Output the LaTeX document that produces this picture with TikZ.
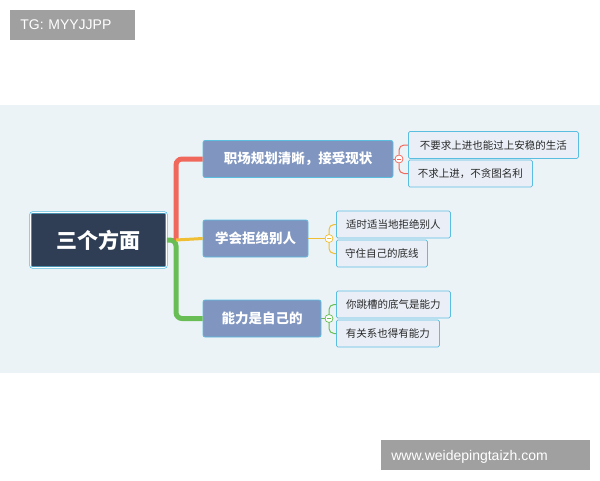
\documentclass[tikz,border=0pt]{standalone}
\usepackage{fontspec}
\setmainfont{Liberation Sans}
\newfontfamily\cjk{Noto Sans CJK SC}
\definecolor{bandbg}{RGB}{236,243,247}
\definecolor{rootfill}{RGB}{47,62,85}
\definecolor{topicfill}{RGB}{128,150,192}
\definecolor{edgeblue}{RGB}{90,190,225}
\definecolor{leaffill}{RGB}{234,239,247}
\definecolor{redline}{RGB}{240,104,92}
\definecolor{yellowline}{RGB}{240,190,50}
\definecolor{greenline}{RGB}{104,190,84}
\definecolor{markgray}{RGB}{160,160,160}
\tikzset{every picture/.style={line width=0.75pt}}
\tikzset{
  rootbox/.style={draw=edgeblue,fill=rootfill,text=white,rounded corners=2pt,double=white,double distance=0.6pt,minimum width=136pt,minimum height=55pt,font=\cjk\bfseries\fontsize{21}{24}\selectfont},
  topicbox/.style={draw=edgeblue,fill=topicfill,text=white,rounded corners=2pt,minimum height=37pt,font=\cjk\bfseries\fontsize{13.5}{16}\selectfont},
  leafbox/.style={draw=edgeblue,fill=leaffill,text={rgb,255:red,40;green,40;blue,40},rounded corners=1.5pt,minimum height=27pt,inner xsep=6pt,font=\cjk\fontsize{10.5}{12}\selectfont},
  trunk/.style={line width=5pt,rounded corners=6pt},
  twig/.style={line width=1pt,rounded corners=5pt},
  knob/.style={circle,draw,fill=white,inner sep=0pt,minimum size=8pt},
  markbox/.style={fill=markgray,text=white,inner xsep=10pt,anchor=west,text depth=0pt,font=\fontsize{14}{16}\selectfont}
}
\begin{document}
\begin{tikzpicture}[x=1pt,y=-1pt]
\useasboundingbox (0,0) rectangle (600,480);
\fill[white] (0,0) rectangle (600,480);
\fill[bandbg] (0,105) rectangle (600,373);

% watermarks
\node[markbox,minimum width=125pt,minimum height=30pt,text width=105pt] (tagmark) at (10,25) {TG: MYYJJPP};
\node[markbox,minimum width=209pt,minimum height=30pt,text width=189pt] (sitemark) at (381,455) {www.weidepingtaizh.com};

% root and topics
\node[rootbox] (root) at (98.5,240) {三个方面};
\node[topicbox,minimum width=190pt] (career) at (298,159) {职场规划清晰，接受现状};
\node[topicbox,minimum width=105pt] (refuse) at (255.5,238.5) {学会拒绝别人};
\node[topicbox,minimum width=118pt] (ability) at (262,318.5) {能力是自己的};

% trunk
\coordinate (fork) at (176,240);
\draw[trunk,greenline] (root.east) -- (fork) |- (ability.west);
\draw[trunk,redline] (fork) |- (career.west);
\draw[yellowline,line width=3pt] (fork) -- (refuse.west);

% leaves
\node[leafbox,anchor=west,minimum width=170pt] (stable) at (408,145) {不要求上进也能过上安稳的生活};
\node[leafbox,anchor=west,minimum width=124pt] (nofame) at (408,173.5) {不求上进，不贪图名利};
\node[leafbox,anchor=west,minimum width=114pt] (timely) at (336,224.5) {适时适当地拒绝别人};
\node[leafbox,anchor=west,minimum width=91pt] (bottom) at (336,253.5) {守住自己的底线};
\node[leafbox,anchor=west,minimum width=114pt] (courage) at (336,304.5) {你跳槽的底气是能力};
\node[leafbox,anchor=west,minimum width=103pt] (network) at (336,333.5) {有关系也得有能力};

% twigs
\node[knob,draw=redline] (knobA) at (399,159) {};
\node[knob,draw=yellowline] (knobB) at (329,238.5) {};
\node[knob,draw=greenline] (knobC) at (329,318.5) {};
\draw[redline,line width=1pt] (career.east) -- (knobA);
\draw[yellowline,line width=1pt] (refuse.east) -- (knobB);
\draw[greenline,line width=1pt] (ability.east) -- (knobC);
\draw[twig,redline] (knobA.north) |- (stable.west);
\draw[twig,redline] (knobA.south) |- (nofame.west);
\draw[twig,yellowline] (knobB.north) |- (timely.west);
\draw[twig,yellowline] (knobB.south) |- (bottom.west);
\draw[twig,greenline] (knobC.north) |- (courage.west);
\draw[twig,greenline] (knobC.south) |- (network.west);
\foreach \k/\c in {knobA/redline,knobB/yellowline,knobC/greenline}
  \draw[\c,line width=0.8pt] ([xshift=-2pt]\k.center) -- ([xshift=2pt]\k.center);
\end{tikzpicture}
\end{document}
